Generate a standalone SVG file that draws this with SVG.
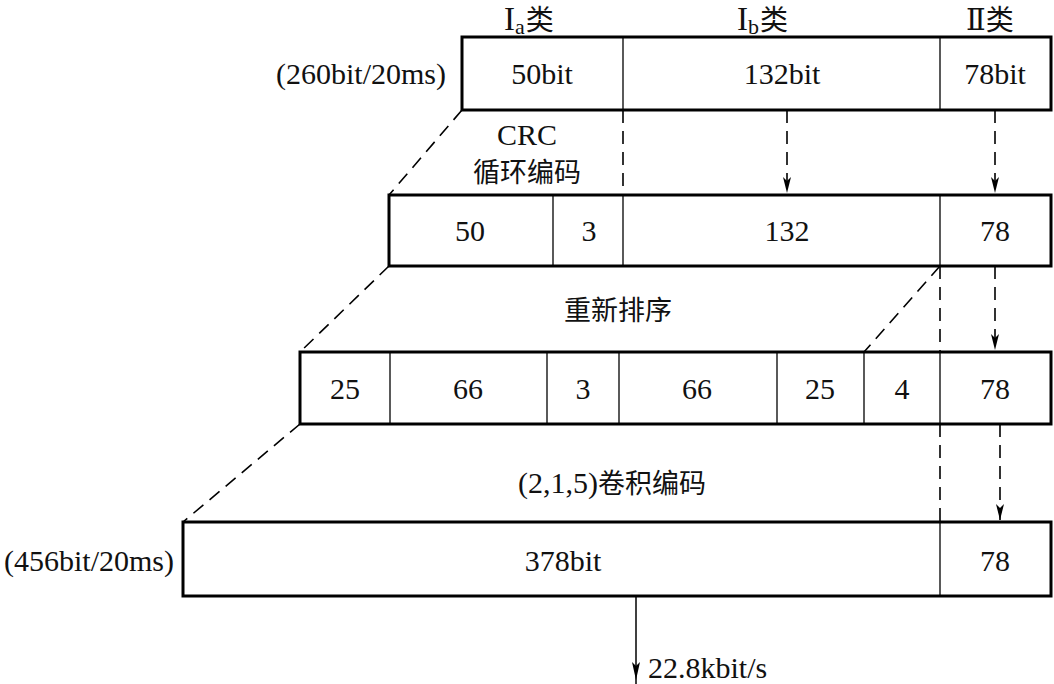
<svg xmlns="http://www.w3.org/2000/svg" width="1054" height="684" viewBox="0 0 1054 684">
<defs>
<style>
.t{font-family:"Liberation Serif","Noto Sans CJK SC",serif;font-size:30px;fill:#111;text-anchor:middle}
.s{text-anchor:start}
.c{font-family:"Noto Sans CJK SC",sans-serif;font-size:27px;fill:#111;text-anchor:middle}
.cj{font-family:"Noto Sans CJK SC",sans-serif;font-size:28px}
.box{fill:#fff;stroke:#000;stroke-width:3}
.div{stroke:#000;stroke-width:1.3}
.dash{stroke:#000;stroke-width:1.6;fill:none;stroke-dasharray:13,8}
</style>
<marker id="ah" markerWidth="16" markerHeight="8" refX="16" refY="4" orient="auto" markerUnits="userSpaceOnUse" viewBox="0 0 16 8">
<path d="M0,0 L4,4 L0,8 L16,4 Z" fill="#000"/>
</marker>
</defs>

<g id="labels-top">
<text x="504" y="30" class="t s" style="font-size:33px">I<tspan font-size="22" dy="4">a</tspan><tspan class="cj" dy="-4" dx="1">类</tspan></text>
<text x="737" y="30" class="t s" style="font-size:33px">I<tspan font-size="22" dy="4">b</tspan><tspan class="cj" dy="-4" dx="1">类</tspan></text>
<text x="966" y="30" class="t s" style="font-family:'DejaVu Serif','Noto Sans CJK SC',serif;font-size:29px">Ⅱ<tspan class="cj">类</tspan></text>
</g>

<g id="row1">
<rect class="box" x="462" y="37" width="589" height="73"/>
<line class="div" x1="623" y1="37" x2="623" y2="110"/>
<line class="div" x1="940" y1="37" x2="940" y2="110"/>
<text x="361" y="84" class="t">(260bit/20ms)</text>
<text x="542" y="84" class="t">50bit</text>
<text x="782" y="84" class="t">132bit</text>
<text x="995" y="84" class="t">78bit</text>
</g>

<g id="label-crc">
<text x="527" y="145" class="t">CRC</text>
<text x="527" y="182" class="c">循环编码</text>
</g>

<g id="row2">
<rect class="box" x="389" y="195" width="662" height="71"/>
<line class="div" x1="553" y1="195" x2="553" y2="266"/>
<line class="div" x1="623" y1="195" x2="623" y2="266"/>
<line class="div" x1="940" y1="195" x2="940" y2="266"/>
<text x="470" y="241" class="t">50</text>
<text x="589" y="241" class="t">3</text>
<text x="787" y="241" class="t">132</text>
<text x="995" y="241" class="t">78</text>
</g>

<g id="label-reorder">
<text x="618" y="320" class="c">重新排序</text>
</g>

<g id="row3">
<rect class="box" x="300" y="352" width="751" height="72"/>
<line class="div" x1="390" y1="352" x2="390" y2="424"/>
<line class="div" x1="547" y1="352" x2="547" y2="424"/>
<line class="div" x1="619" y1="352" x2="619" y2="424"/>
<line class="div" x1="777" y1="352" x2="777" y2="424"/>
<line class="div" x1="864" y1="352" x2="864" y2="424"/>
<line class="div" x1="940" y1="352" x2="940" y2="424"/>
<text x="345" y="399" class="t">25</text>
<text x="468" y="399" class="t">66</text>
<text x="583" y="399" class="t">3</text>
<text x="697" y="399" class="t">66</text>
<text x="820" y="399" class="t">25</text>
<text x="902" y="399" class="t">4</text>
<text x="995" y="399" class="t">78</text>
</g>

<g id="label-conv">
<text x="612" y="493" class="t">(2,1,5)<tspan font-family="Noto Sans CJK SC, sans-serif" font-size="27">卷积编码</tspan></text>
</g>

<g id="row4">
<rect class="box" x="183" y="522" width="868" height="74"/>
<line class="div" x1="940" y1="522" x2="940" y2="596"/>
<text x="89" y="571" class="t">(456bit/20ms)</text>
<text x="563" y="571" class="t">378bit</text>
<text x="995" y="571" class="t">78</text>
</g>

<g id="connectors">
<line class="dash" x1="462" y1="110" x2="389" y2="195"/>
<line class="dash" x1="389" y1="266" x2="300" y2="352"/>
<line class="dash" x1="300" y1="424" x2="183" y2="522"/>
<line class="dash" x1="623" y1="110" x2="623" y2="195"/>
<line class="dash" x1="787" y1="110" x2="787" y2="193" marker-end="url(#ah)"/>
<line class="dash" x1="995" y1="110" x2="995" y2="193" marker-end="url(#ah)"/>
<line class="dash" x1="940" y1="266" x2="864" y2="352"/>
<line class="dash" x1="940" y1="266" x2="940" y2="352"/>
<line class="dash" x1="940" y1="424" x2="940" y2="522"/>
<line class="dash" x1="995" y1="266" x2="995" y2="350" marker-end="url(#ah)"/>
<line class="dash" x1="1000" y1="424" x2="1000" y2="520" marker-end="url(#ah)"/>
<line x1="636" y1="596" x2="636" y2="684" stroke="#000" stroke-width="1.5"/>
<path d="M632,662 L636,666 L640,662 L636,680 Z" fill="#000"/>
<text x="648" y="678" class="t s">22.8kbit/s</text>
</g>
</svg>
